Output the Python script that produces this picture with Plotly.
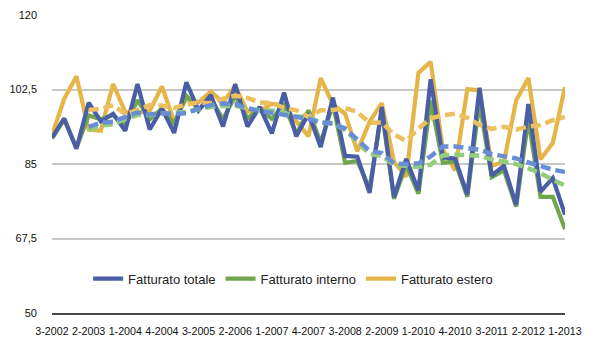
import plotly.graph_objects as go
import pandas as pd

# Quarterly periods 3-2002 .. 1-2013
periods = [f"{q}-{y}" for y in range(2002, 2014) for q in range(1, 5)]
periods = periods[periods.index("3-2002"): periods.index("1-2013") + 1]

tick_labels = ["3-2002", "2-2003", "1-2004", "4-2004", "3-2005", "2-2006", "1-2007",
               "4-2007", "3-2008", "2-2009", "1-2010", "4-2010", "3-2011", "2-2012", "1-2013"]

fatturato_totale = [91.2, 95.7, 88.6, 99.4, 95.0, 96.8, 92.8, 103.8, 93.1, 98.0,
                    92.3, 104.2, 97.6, 101.2, 93.8, 103.7, 93.8, 98.4, 92.2, 101.8,
                    91.5, 96.8, 89.0, 100.6, 86.9, 86.7, 78.2, 98.4, 77.2, 86.2,
                    78.8, 104.9, 86.5, 86.3, 77.8, 102.9, 82.3, 84.6, 75.4, 99.1,
                    78.5, 81.7, 73.1]
fatturato_interno = [91.0, 95.5, 88.8, 96.4, 95.5, 96.5, 94.0, 100.0, 95.5, 98.0,
                     94.5, 101.0, 97.8, 100.3, 95.5, 101.0, 95.7, 98.0, 95.6, 99.0,
                     92.0, 97.6, 90.0, 99.0, 85.3, 85.7, 79.2, 97.5, 76.8, 84.8,
                     78.0, 99.9, 85.3, 85.6, 77.3, 99.5, 81.9, 83.5, 75.0, 95.5,
                     77.3, 77.3, 69.7]
fatturato_estero = [91.8, 100.3, 105.6, 93.1, 92.8, 103.8, 97.2, 97.0, 97.5, 103.2,
                    95.0, 100.3, 99.5, 102.0, 99.5, 103.3, 97.3, 97.6, 99.1, 98.7,
                    95.0, 91.5, 105.2, 99.0, 96.8, 88.0, 94.9, 99.3, 85.5, 82.0,
                    106.4, 109.0, 88.4, 83.5, 102.6, 102.3, 84.6, 85.5, 99.9, 105.2,
                    86.1, 89.9, 103.1]

series = [
    ("Fatturato totale", fatturato_totale, "#4a5ea6", "#6a8ed6"),
    ("Fatturato interno", fatturato_interno, "#6ea64e", "#93cc7c"),
    ("Fatturato estero", fatturato_estero, "#e6b547", "#ecc05e"),
]
rank = {"Fatturato totale": 1, "Fatturato interno": 2, "Fatturato estero": 3}

x_idx = list(range(len(periods)))
fig = go.Figure()

# solid lines: estero at bottom, totale on top
for name, vals, col, _ in reversed(series):
    fig.add_trace(go.Scatter(x=x_idx, y=vals, mode="lines", name=name,
                             line=dict(color=col, width=4.2, shape="linear"),
                             legendrank=rank[name]))

# 4-period moving-average trend lines
for name, vals, _, dcol in reversed(series):
    ma = pd.Series(vals).rolling(4).mean().tolist()
    fig.add_trace(go.Scatter(x=x_idx, y=ma, mode="lines", showlegend=False,
                             line=dict(color=dcol, width=4.5, dash="10px,5px")))

fig.update_layout(
    width=600, height=346,
    margin=dict(l=41, r=35, t=9, b=32),
    paper_bgcolor="white", plot_bgcolor="white",
    font=dict(family="Liberation Sans, Arial, sans-serif", color="#111111"),
    showlegend=True,
    legend=dict(orientation="h", x=0.47, xanchor="center", y=0.115, yanchor="middle",
                bgcolor="rgba(0,0,0,0)", font=dict(size=13, color="#222222"),
                itemwidth=30, tracegroupgap=0),
    xaxis=dict(range=[0, 42], tickmode="array",
               tickvals=[periods.index(t) for t in tick_labels], ticktext=tick_labels,
               showgrid=False, zeroline=False,
               showline=True, linecolor="#4a4a4a", linewidth=1.5,
               ticks="", ticklabelstandoff=7, tickfont=dict(size=10.7, color="#111111")),
    yaxis=dict(range=[50, 120], tickmode="array",
               tickvals=[50, 67.5, 85, 102.5, 120],
               ticktext=["50", "67,5", "85", "102,5", "120"],
               showgrid=True, gridcolor="#c8c8c8", gridwidth=1.5,
               zeroline=False, showline=False, ticks="", ticklabelstandoff=14,
               tickfont=dict(size=11, color="#111111")),
)

fig.write_html("out.html")
